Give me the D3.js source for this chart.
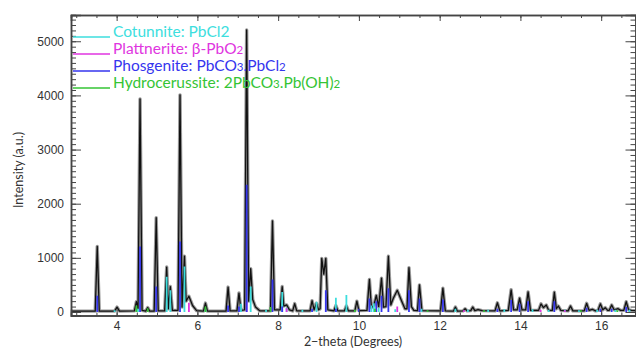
<!DOCTYPE html>
<html>
<head>
<meta charset="utf-8">
<script src="https://cdn.jsdelivr.net/npm/d3@7"></script>
<style>
  body { margin: 0; background: #fff; }
  svg { display: block; font-family: Lato, "Open Sans", sans-serif; }
</style>
</head>
<body>
<svg id="chart" width="636" height="349"></svg>
<script>
// measured pattern (2-theta, intensity)
const trace = [
  [2.87, 15], [3.47, 15], [3.52, 1210], [3.57, 15],
  [3.95, 15], [4.01, 90], [4.07, 15],
  [4.44, 20], [4.49, 190], [4.53, 60], [4.58, 3935], [4.63, 30],
  [4.72, 15], [4.77, 80], [4.82, 15],
  [4.93, 15], [4.98, 1740], [5.03, 20],
  [5.19, 20], [5.24, 830], [5.28, 60], [5.33, 470], [5.38, 30],
  [5.52, 30], [5.57, 4010], [5.62, 90], [5.68, 1030], [5.72, 200], [5.79, 290], [5.88, 120], [5.98, 25],
  [6.15, 15], [6.20, 165], [6.25, 15],
  [6.71, 15], [6.76, 460], [6.81, 20],
  [6.98, 20], [7.03, 350], [7.08, 30],
  [7.17, 40], [7.22, 5210], [7.27, 200], [7.32, 800], [7.37, 230], [7.44, 90], [7.55, 20],
  [7.81, 20], [7.86, 1680], [7.91, 40],
  [8.05, 40], [8.10, 470], [8.14, 110], [8.21, 130], [8.28, 40],
  [8.36, 20], [8.41, 155], [8.46, 20],
  [8.79, 20], [8.84, 210], [8.89, 40], [8.95, 160], [9.00, 40],
  [9.04, 60], [9.08, 990], [9.13, 700], [9.18, 990], [9.23, 40],
  [9.38, 20], [9.43, 120], [9.48, 20],
  [9.64, 20], [9.69, 110], [9.74, 20],
  [9.90, 20], [9.95, 200], [10.00, 25],
  [10.20, 30], [10.26, 600], [10.31, 80], [10.37, 120], [10.43, 305], [10.49, 100],
  [10.56, 625], [10.61, 90], [10.67, 100], [10.73, 1030], [10.79, 130], [10.85, 250],
  [10.95, 400], [11.06, 200], [11.14, 60],
  [11.19, 60], [11.24, 820], [11.30, 100], [11.36, 30],
  [11.45, 25], [11.50, 500], [11.56, 25],
  [12.02, 20], [12.08, 440], [12.14, 20],
  [12.34, 15], [12.39, 90], [12.44, 15],
  [12.58, 20], [12.63, 60], [12.68, 20],
  [12.77, 25], [12.82, 90], [12.87, 25], [12.95, 45], [13.05, 25],
  [13.37, 20], [13.43, 170], [13.49, 20],
  [13.70, 30], [13.77, 410], [13.83, 40], [13.92, 40], [13.98, 255], [14.04, 40],
  [14.13, 40], [14.19, 370], [14.25, 30],
  [14.45, 30], [14.51, 150], [14.57, 80], [14.64, 130], [14.70, 30],
  [14.79, 30], [14.84, 365], [14.89, 60], [14.94, 110], [15.00, 30],
  [15.18, 20], [15.24, 110], [15.30, 20],
  [15.58, 20], [15.64, 160], [15.70, 30], [15.78, 50], [15.86, 20],
  [15.92, 30], [15.98, 150], [16.04, 40], [16.10, 80], [16.16, 30],
  [16.20, 30], [16.26, 130], [16.32, 40], [16.42, 60], [16.48, 30],
  [16.56, 30], [16.62, 190], [16.68, 40], [16.75, 30], [16.86, 25]
];

// reference phases: [2-theta, intensity]
const cotunnite = [
  [3.95, 30], [4.53, 60], [5.24, 650], [5.33, 400], [5.68, 840], [6.20, 40], [7.08, 150],
  [7.32, 470], [7.70, 40], [8.10, 370], [8.21, 80], [8.60, 40], [8.95, 190], [9.43, 265],
  [9.69, 315], [10.31, 120], [10.37, 160], [10.49, 80], [10.90, 50], [11.55, 60],
  [12.39, 60], [12.70, 40], [13.20, 40], [13.60, 50], [14.30, 50], [14.70, 40],
  [15.10, 40], [15.45, 30], [15.90, 40], [16.35, 40], [16.70, 40]
];
const plattnerite = [
  [5.79, 170], [7.22, 190], [8.21, 70], [10.95, 100], [12.60, 30], [14.50, 40], [15.10, 30], [16.00, 30]
];
const phosgenite = [
  [3.52, 300], [4.58, 1210], [4.98, 470], [5.57, 1300], [6.76, 120], [7.03, 100], [7.22, 2350],
  [7.86, 600], [8.10, 100], [8.84, 60], [9.18, 400], [9.43, 60], [10.00, 60], [10.26, 250],
  [10.43, 200], [10.56, 300], [10.73, 440], [11.24, 400], [11.50, 250], [12.08, 230],
  [13.43, 60], [13.77, 220], [13.98, 150], [14.19, 200], [14.84, 200], [15.64, 80],
  [15.98, 60], [16.26, 60], [16.62, 90]
];
const hydrocerussite = [
  [4.49, 120], [4.77, 70], [6.20, 100], [7.81, 90], [9.90, 40], [10.40, 60],
  [11.70, 30], [13.10, 30], [15.50, 30], [16.40, 30]
];

const phaseNames = ["Cotunnite: PbCl2", "Plattnerite: β-PbO₂", "Phosgenite: PbCO₃.PbCl₂", "Hydrocerussite: 2PbCO₃.Pb(OH)₂"];
const phaseColors = ["#3ddede", "#e035e0", "#3535ee", "#35c435"];
const phases = [cotunnite, plattnerite, phosgenite, hydrocerussite];

const yMajor = [0, 1000, 2000, 3000, 4000, 5000];
const xMajor = [4, 6, 8, 10, 12, 14, 16];

const svg = d3.select("#chart");
const margin = { top: 15, right: 0.5, bottom: 33.5, left: 71 };
const width = 636 - margin.left - margin.right;
const height = 349 - margin.top - margin.bottom;

const x = d3.scaleLinear().domain([2.87, 16.85]).range([0, width]);
const y = d3.scaleLinear().domain([-65, 5485]).range([height, 0]);

const g = svg.append("g").attr("transform", `translate(${margin.left},${margin.top})`);

g.append("clipPath").attr("id", "clip")
  .append("rect").attr("width", width).attr("height", height);

const plot = g.append("g").attr("clip-path", "url(#clip)");

const line = d3.line().x(d => x(d[0])).y(d => y(d[1]));

// gray halo + black pattern
plot.append("path").datum(trace)
  .attr("fill", "none").attr("stroke", "#9a9a9a").attr("stroke-width", 3.4)
  .attr("stroke-linejoin", "round").attr("d", line);
plot.append("path").datum(trace)
  .attr("fill", "none").attr("stroke", "#111").attr("stroke-width", 1.3)
  .attr("stroke-linejoin", "round").attr("d", line);

// phase sticks on top
phases.forEach((ph, i) => {
  plot.append("g").selectAll("line").data(ph).join("line")
    .attr("x1", d => x(d[0])).attr("x2", d => x(d[0]))
    .attr("y1", y(0)).attr("y2", d => y(d[1]))
    .attr("stroke", phaseColors[i]).attr("stroke-width", 1.8);
});

// axes
const axisStyle = sel => {
  sel.select(".domain").attr("stroke", "#444").attr("stroke-width", 1.5);
  sel.selectAll(".tick line").attr("stroke", "#444");
  sel.selectAll("text").attr("fill", "#333").style("font-size", "12px");
};

const yMinor = d3.range(0, 5401, 100);
const xMinor = d3.range(3, 16.9, 0.5);

g.append("g").call(d3.axisLeft(y).tickValues(yMinor).tickSize(-5).tickFormat("")).call(axisStyle);
g.append("g").call(d3.axisLeft(y).tickValues(yMajor).tickSize(-10).tickPadding(7).tickFormat(d3.format("d"))).call(axisStyle);
g.append("g").attr("transform", `translate(${width},0)`)
  .call(d3.axisRight(y).tickValues(yMinor).tickSize(-5).tickFormat("")).call(axisStyle);
g.append("g").attr("transform", `translate(${width},0)`)
  .call(d3.axisRight(y).tickValues(yMajor).tickSize(-10).tickFormat("")).call(axisStyle);

g.append("g").attr("transform", `translate(0,${height})`)
  .call(d3.axisBottom(x).tickValues(xMinor).tickSize(-3).tickFormat("")).call(axisStyle);
g.append("g").attr("transform", `translate(0,${height})`)
  .call(d3.axisBottom(x).tickValues(xMajor).tickSize(-6).tickPadding(6).tickFormat(d3.format("d"))).call(axisStyle);
g.append("g")
  .call(d3.axisTop(x).tickValues(xMinor).tickSize(-3).tickFormat("")).call(axisStyle);
g.append("g")
  .call(d3.axisTop(x).tickValues(xMajor).tickSize(-6).tickFormat("")).call(axisStyle);

// axis titles
svg.append("text")
  .attr("transform", "translate(23,170) rotate(-90)")
  .attr("text-anchor", "middle").attr("fill", "#333").style("font-size", "12.5px")
  .text("Intensity (a.u.)");
svg.append("text")
  .attr("x", 353).attr("y", 346)
  .attr("text-anchor", "middle").attr("fill", "#333").style("font-size", "12.5px")
  .text("2−theta (Degrees)");

// legend
const legend = svg.append("g").attr("transform", "translate(73,37)");
phaseNames.forEach((name, i) => {
  const row = legend.append("g").attr("transform", `translate(0,${i * 17})`);
  row.append("line").attr("x1", 0).attr("x2", 37).attr("y1", 0).attr("y2", 0)
    .attr("stroke", phaseColors[i]).attr("stroke-width", 1.5);
  const t = row.append("text").attr("x", 40).attr("y", 0)
    .attr("fill", phaseColors[i]).style("font-size", "15.5px");
  // split subscript digits into smaller tspans
  const parts = name.split(/([₀-₉]+)/);
  parts.forEach(p => {
    if (!p) return;
    if (/[₀-₉]/.test(p)) {
      t.append("tspan").style("font-size", "11.5px")
        .text(p.replace(/[₀-₉]/g, c => String.fromCharCode(c.charCodeAt(0) - 0x2080 + 48)));
    } else {
      t.append("tspan").text(p);
    }
  });
});
</script>
</body>
</html>
